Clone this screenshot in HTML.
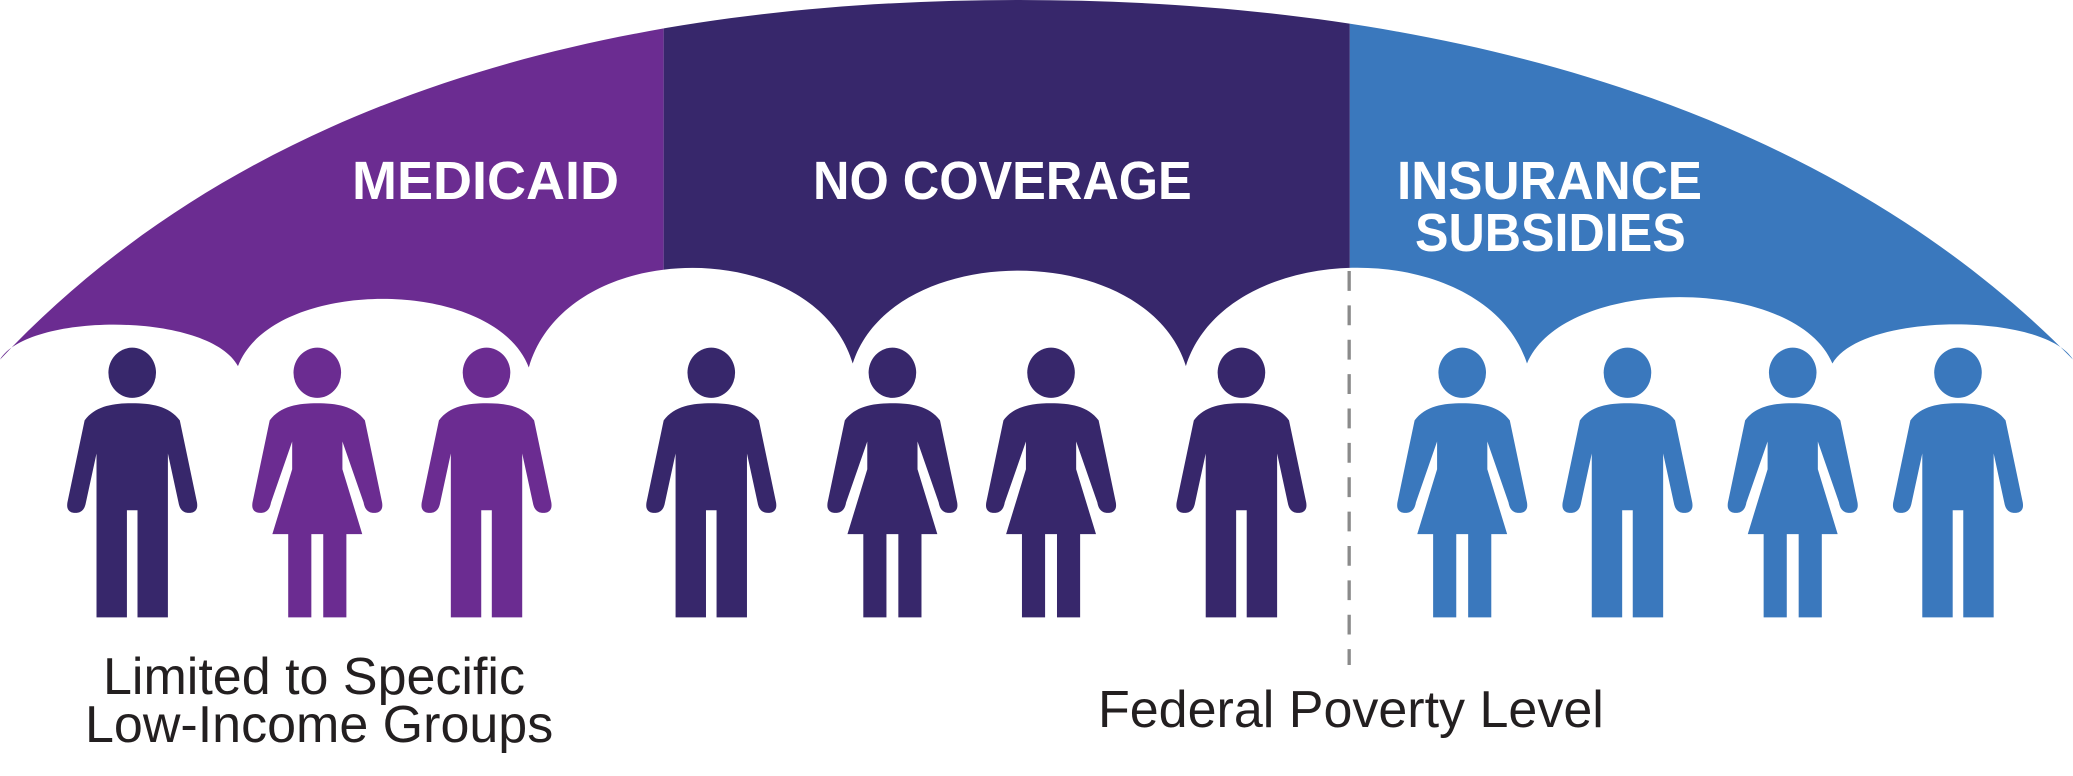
<!DOCTYPE html>
<html><head><meta charset="utf-8"><style>
html,body{margin:0;padding:0;background:#fff;}
body{position:relative;width:2073px;height:776px;overflow:hidden;}
svg{display:block;position:absolute;left:0;top:0;}
.t{position:absolute;white-space:nowrap;line-height:1;font-family:"Liberation Sans",Arial,sans-serif;transform-origin:0 0;}
.b{font-weight:bold;color:#fff;font-size:54px;}
.r{color:#231f20;font-size:52px;}
</style></head><body>
<svg width="2073" height="776" viewBox="0 0 1568 587" preserveAspectRatio="none" xmlns="http://www.w3.org/2000/svg">
<defs>
<clipPath id="u">
<path d="M0,272 C190,70 470,0 771,0 C1070,0 1370,70 1568,272
C1546,236 1408,236 1386,275
C1358,208 1183,208 1155,275
C1124,178 928,178 897,277
C867,181 675,181 645,275
C616,178 429,178 400,278
C374,209 206,209 180,277
C158,236 22,236 0,272 Z"/>
</clipPath>
<path id="man" d="M-36,318 C-28,307 -14,305 0,305 C14,305 28,307 36,318 L49,380 C50,386 47,388 43,388 C39,388 36,386 35,380 L27,343 L27,467 L4,467 L4,386 L-4,386 L-4,467 L-27,467 L-27,343 L-35,380 C-36,386 -39,388 -43,388 C-47,388 -50,386 -49,380 Z"/>
<path id="woman" d="M-36,318 C-28,307 -14,305 0,305 C14,305 28,307 36,318 L49,380 C50,386 47,388 43,388 C39,388 36,386 35,380 L19,334 L19,355 L34,404 L22,404 L22,467 L4.5,467 L4.5,404 L-4.5,404 L-4.5,467 L-22,467 L-22,404 L-34,404 L-19,355 L-19,334 L-35,380 C-36,386 -39,388 -43,388 C-47,388 -50,386 -49,380 Z"/>
</defs>
<g clip-path="url(#u)">
<rect x="0" y="0" width="502" height="300" fill="#6b2c91"/>
<rect x="502" y="0" width="519" height="300" fill="#37276b"/>
<rect x="1021" y="0" width="547" height="300" fill="#3a78bd"/>
</g>
<line x1="1020.5" y1="205" x2="1020.5" y2="503" stroke="#8a8a8a" stroke-width="2.5" stroke-dasharray="15,11"/>
<g fill="#37276b" transform="translate(100,0)"><ellipse cx="0" cy="282" rx="18" ry="19"/><use href="#man"/></g>
<g fill="#6b2c91" transform="translate(240,0)"><ellipse cx="0" cy="282" rx="18" ry="19"/><use href="#woman"/></g>
<g fill="#6b2c91" transform="translate(368,0)"><ellipse cx="0" cy="282" rx="18" ry="19"/><use href="#man"/></g>
<g fill="#37276b" transform="translate(538,0)"><ellipse cx="0" cy="282" rx="18" ry="19"/><use href="#man"/></g>
<g fill="#37276b" transform="translate(675,0)"><ellipse cx="0" cy="282" rx="18" ry="19"/><use href="#woman"/></g>
<g fill="#37276b" transform="translate(795,0)"><ellipse cx="0" cy="282" rx="18" ry="19"/><use href="#woman"/></g>
<g fill="#37276b" transform="translate(939,0)"><ellipse cx="0" cy="282" rx="18" ry="19"/><use href="#man"/></g>
<g fill="#3a78bd" transform="translate(1106,0)"><ellipse cx="0" cy="282" rx="18" ry="19"/><use href="#woman"/></g>
<g fill="#3a78bd" transform="translate(1231,0)"><ellipse cx="0" cy="282" rx="18" ry="19"/><use href="#man"/></g>
<g fill="#3a78bd" transform="translate(1356,0)"><ellipse cx="0" cy="282" rx="18" ry="19"/><use href="#woman"/></g>
<g fill="#3a78bd" transform="translate(1481,0)"><ellipse cx="0" cy="282" rx="18" ry="19"/><use href="#man"/></g>
</svg>
<div class="t b" style="left:352px;top:154px;">MEDICAID</div>
<div class="t b" style="left:813px;top:154px;transform:scaleX(0.935);">NO COVERAGE</div>
<div class="t b" style="left:1397px;top:154px;transform:scaleX(0.95);">INSURANCE</div>
<div class="t b" style="left:1415px;top:206px;transform:scaleX(0.93);">SUBSIDIES</div>
<div class="t r" style="left:103px;top:651px;">Limited to Specific</div>
<div class="t r" style="left:85px;top:699px;">Low-Income Groups</div>
<div class="t r" style="left:1098px;top:684px;">Federal Poverty Level</div>
</body></html>
